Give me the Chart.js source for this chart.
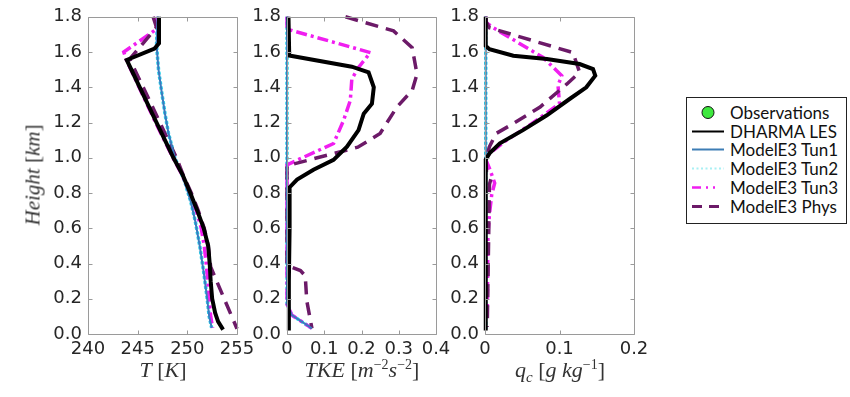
<!DOCTYPE html>
<html>
<head>
<meta charset="utf-8">
<script src="https://cdn.jsdelivr.net/npm/chart.js@4.4.1/dist/chart.umd.min.js"></script>
<style>
  html, body { margin:0; padding:0; background:#fff; }
  #wrap { position:relative; width:850px; height:397px; overflow:hidden; background:#fff; }
  canvas.panel { position:absolute; top:0; }
  .atitle { position:absolute; font-family:"Liberation Serif", serif; font-size:22px; color:#333; white-space:nowrap; transform:translateX(-50%); }
  .atitle i { font-style:italic; }
  .ytitle { position:absolute; font-family:"Liberation Serif", serif; font-size:21px; color:#333; white-space:nowrap; left:33px; top:175px; transform:translate(-50%,-50%) rotate(-90deg); }
  #legend { position:absolute; left:686px; top:97px; width:161px; height:127px; border:1px solid #222; background:#fff; box-sizing:border-box; font-family:Lato, "Liberation Sans", sans-serif; font-size:17px; color:#111; }
  .row { position:absolute; left:0; height:19px; width:160px; }
  .row svg { position:absolute; left:4px; top:0; }
  .row span { position:absolute; left:43px; top:0; line-height:19px; white-space:nowrap; }
</style>
</head>
<body>
<div id="wrap">
  <canvas class="panel" id="c1" width="270" height="397" style="left:0px"></canvas>
  <canvas class="panel" id="c2" width="270" height="397" style="left:199px"></canvas>
  <canvas class="panel" id="c3" width="270" height="397" style="left:397px"></canvas>
  <div class="ytitle"><i>Height</i> [<i>km</i>]</div>
  <div class="atitle" style="left:163px; top:357px;"><i>T</i> [<i>K</i>]</div>
  <div class="atitle" style="left:362px; top:357px;"><i>TKE</i> [<i>m</i><sup style="font-size:14px">−2</sup><i>s</i><sup style="font-size:14px">−2</sup>]</div>
  <div class="atitle" style="left:560px; top:357px;"><i>q<sub style="font-size:15px">c</sub></i> [<i>g</i> <i>kg</i><sup style="font-size:14px">−1</sup>]</div>
  <div id="legend"></div>
</div>
<script>
// ---------------- data: [height (km), value] ----------------
const heightTicks = [0,0.2,0.4,0.6,0.8,1.0,1.2,1.4,1.6,1.8];
const tempTicks = [240,245,250,255];
const tkeTicks = [0,0.1,0.2,0.3,0.4];
const qcTicks = [0,0.1,0.2];

const seriesNames = ["Observations","DHARMA LES","ModelE3 Tun1","ModelE3 Tun2","ModelE3 Tun3","ModelE3 Phys"];

// Temperature T [K]
const T_LES  = [[1.80,247.15],[1.65,247.15],[1.62,246.7],[1.555,243.9],[1.2,246.9],[1.0,248.6],[0.9,249.55],[0.8,250.3],[0.7,251.0],[0.6,251.65],[0.5,252.1],[0.4,252.25],[0.3,252.35],[0.2,252.5],[0.12,252.8],[0.07,253.1],[0.025,253.6]];
const T_Tun1 = [[1.8,247.0],[1.64,246.9],[1.5,247.1],[1.38,247.4],[1.25,247.75],[1.14,248.1],[1.0,248.75],[0.87,249.7],[0.75,250.35],[0.64,250.8],[0.5,251.25],[0.35,251.65],[0.2,252.0],[0.1,252.2],[0.035,252.45]];
const T_Tun2 = [[1.8,247.0],[1.64,246.9],[1.5,247.1],[1.38,247.4],[1.25,247.75],[1.14,248.1],[1.0,248.75],[0.87,249.7],[0.75,250.35],[0.64,250.8],[0.5,251.25],[0.35,251.65],[0.2,252.0],[0.1,252.2],[0.035,252.45]];
const T_Tun3 = [[1.8,246.8],[1.73,246.9],[1.6,243.6],[1.55,243.9],[1.2,246.8],[1.0,248.55],[0.9,249.5],[0.8,250.25],[0.7,250.9],[0.6,251.4],[0.5,251.7],[0.4,251.9],[0.3,252.05],[0.2,252.2],[0.1,252.35],[0.035,252.55]];
const T_Phys = [[1.8,246.55],[1.74,246.9],[1.56,244.2],[1.3,246.4],[1.0,248.9],[0.9,249.6],[0.8,250.4],[0.7,251.1],[0.6,251.7],[0.5,252.1],[0.38,252.35],[0.03,255.0]];

// TKE [m^-2 s^-2]
const TKE_LES  = [[1.8,0.004],[1.58,0.006],[1.517,0.174],[1.485,0.219],[1.40,0.233],[1.307,0.228],[1.25,0.206],[1.157,0.192],[1.063,0.161],[0.988,0.125],[0.932,0.071],[0.876,0.027],[0.83,0.006],[0.6,0.007],[0.3,0.005],[0.02,0.005]];
const TKE_Tun1 = [[1.8,0],[0.17,0],[0.107,0.013],[0.032,0.067]];
const TKE_Tun2 = [[1.8,0],[0.17,0],[0.107,0.013],[0.032,0.067]];
const TKE_Tun3 = [[1.8,0],[1.73,0],[1.597,0.224],[1.513,0.192],[1.447,0.174],[1.326,0.17],[1.213,0.152],[1.081,0.125],[0.96,0],[0.17,0],[0.107,0.013],[0.032,0.067]];
const TKE_Phys = [[1.8,0.157],[1.72,0.286],[1.625,0.336],[1.475,0.349],[1.382,0.336],[1.288,0.295],[1.138,0.25],[1.06,0.19],[0.955,0],[0.39,0],[0.36,0.036],[0.33,0.049],[0.19,0.053],[0.08,0.0626],[0.032,0.067]];

// qc [g kg^-1]
const QC_LES  = [[1.8,0.001],[1.635,0.001],[1.616,0.006],[1.579,0.038],[1.56,0.083],[1.532,0.127],[1.503,0.145],[1.466,0.148],[1.40,0.136],[1.335,0.114],[1.241,0.083],[1.157,0.051],[1.082,0.02],[1.025,0.006],[0.99,0.001],[0.02,0.001]];
const QC_Tun1 = [[1.8,0.001],[0.03,0.001]];
const QC_Tun2 = [[1.8,0.001],[0.03,0.001]];
const QC_Tun3 = [[1.8,0.001],[1.766,0.002],[1.738,0.011],[1.569,0.078],[1.466,0.103],[1.41,0.098],[1.307,0.10],[1.20,0.065],[1.10,0.029],[1.025,0.006],[0.99,0.001],[0.94,0.006],[0.857,0.013],[0.79,0.009],[0.68,0.006],[0.57,0.004],[0.1,0.003]];
const QC_Phys = [[1.8,0.001],[1.776,0.001],[1.738,0.006],[1.597,0.118],[1.485,0.127],[1.419,0.11],[1.288,0.074],[1.194,0.038],[1.138,0.015],[1.063,0.006],[0.99,0.001],[0.92,0.002],[0.88,0.008],[0.85,0.006],[0.04,0.003]];

// ---------------- styles ----------------
const styles = {
  "DHARMA LES":   {color:"#000000", width:4,   dash:[]},
  "ModelE3 Tun1": {color:"#3a7bbf", width:2,   dash:[]},
  "ModelE3 Tun2": {color:"#2ad6ec", width:3.5, dash:[3,2]},
  "ModelE3 Tun3": {color:"#f01ef0", width:3.5, dash:[11,4,3,4]},
  "ModelE3 Phys": {color:"#6c1a68", width:3.5, dash:[13,8]}
};

function toXY(arr){ return arr.map(p => ({x:p[1], y:p[0]})); }
function ds(name, arr){
  const s = styles[name];
  return {label:name, data:toXY(arr), showLine:true, pointRadius:0, borderColor:s.color,
          borderWidth:s.width, borderDash:s.dash, fill:false, tension:0, clip:2};
}

const frame = {
  id:'frame',
  afterDraw(chart){
    const ctx = chart.ctx, a = chart.chartArea;
    const xs = chart.scales.x, ys = chart.scales.y;
    ctx.save();
    ctx.strokeStyle = '#9a9a9a'; ctx.lineWidth = 1;
    ctx.beginPath();
    const L = Math.round(a.left)+0.5, R = Math.round(a.right)+0.5, T = Math.round(a.top)+0.5, B = Math.round(a.bottom)+0.5;
    ctx.rect(L, T, R-L, B-T);
    xs.ticks.forEach(t => { const p = Math.round(xs.getPixelForValue(t.value))+0.5; ctx.moveTo(p,B); ctx.lineTo(p,B-4); ctx.moveTo(p,T); ctx.lineTo(p,T+4); });
    ys.ticks.forEach(t => { const p = Math.round(ys.getPixelForValue(t.value))+0.5; ctx.moveTo(L,p); ctx.lineTo(L+4,p); ctx.moveTo(R,p); ctx.lineTo(R-4,p); });
    ctx.stroke();
    ctx.restore();
  }
};

const tickFont = {family:"DejaVu Sans", size:18};
function makeChart(id, xmin, xmax, xticks, sets){
  return new Chart(document.getElementById(id), {
    type:'scatter',
    data:{datasets:sets},
    options:{
      responsive:false, animation:false, devicePixelRatio:1,
      layout:{padding:{left:0, right:33, top:14, bottom:0}},
      plugins:{legend:{display:false}, tooltip:{enabled:false}},
      scales:{
        x:{type:'linear', min:xmin, max:xmax,
           afterBuildTicks(s){ s.ticks = xticks.map(v => ({value:v})); },
           afterFit(s){ s.height = 63; },
           grid:{display:false, drawTicks:false}, border:{display:false},
           ticks:{font:tickFont, color:'#262626', padding:5, maxRotation:0, autoSkip:false,
                  callback:(v) => String(v)}},
        y:{type:'linear', min:0, max:1.8,
           afterBuildTicks(s){ s.ticks = heightTicks.map(v => ({value:v})); },
           afterFit(s){ s.width = 88; },
           grid:{display:false, drawTicks:false}, border:{display:false},
           ticks:{font:tickFont, color:'#262626', padding:6, autoSkip:false,
                  callback:(v) => Number(v).toFixed(1)}}
      }
    },
    plugins:[frame]
  });
}

makeChart('c1', 240, 255, tempTicks, [ds("DHARMA LES",T_LES), ds("ModelE3 Tun1",T_Tun1), ds("ModelE3 Phys",T_Phys), ds("ModelE3 Tun3",T_Tun3), ds("ModelE3 Tun2",T_Tun2)]);
makeChart('c2', 0, 0.4, tkeTicks, [ds("DHARMA LES",TKE_LES), ds("ModelE3 Tun1",TKE_Tun1), ds("ModelE3 Phys",TKE_Phys), ds("ModelE3 Tun3",TKE_Tun3), ds("ModelE3 Tun2",TKE_Tun2)]);
makeChart('c3', 0, 0.2, qcTicks, [ds("DHARMA LES",QC_LES), ds("ModelE3 Phys",QC_Phys), ds("ModelE3 Tun3",QC_Tun3), ds("ModelE3 Tun1",QC_Tun1), ds("ModelE3 Tun2",QC_Tun2)]);

// ---------------- legend ----------------
const leg = document.getElementById('legend');
const legendStyles = {
  "Observations": '<circle cx="17" cy="9.5" r="6" fill="#3ee83e" stroke="#111" stroke-width="1"/>',
  "DHARMA LES":   '<line x1="1" y1="9.5" x2="33" y2="9.5" stroke="#000" stroke-width="2"/>',
  "ModelE3 Tun1": '<line x1="1" y1="9.5" x2="33" y2="9.5" stroke="#3d7db5" stroke-width="2"/>',
  "ModelE3 Tun2": '<line x1="1" y1="9.5" x2="33" y2="9.5" stroke="#a8f0f4" stroke-width="2" stroke-dasharray="2,2.5"/>',
  "ModelE3 Tun3": '<line x1="1" y1="9.5" x2="33" y2="9.5" stroke="#f01ef0" stroke-width="2.5" stroke-dasharray="9,5,2,5,2,9"/>',
  "ModelE3 Phys": '<line x1="1" y1="9.5" x2="33" y2="9.5" stroke="#6c1a68" stroke-width="3" stroke-dasharray="10,7"/>'
};
seriesNames.forEach((n,i) => {
  const r = document.createElement('div');
  r.className = 'row';
  r.style.top = (5 + i*18.7) + 'px';
  r.innerHTML = '<svg width="36" height="19">' + legendStyles[n] + '</svg><span>' + n + '</span>';
  leg.appendChild(r);
});
</script>
</body>
</html>
